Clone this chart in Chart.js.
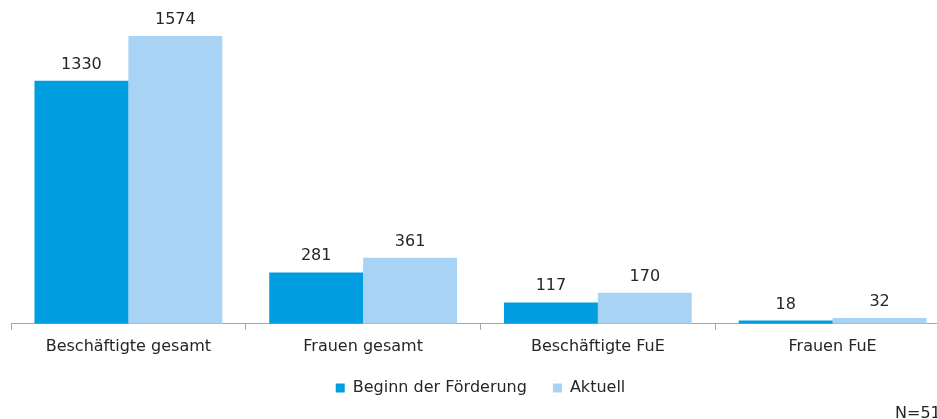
<!DOCTYPE html>
<html>
<head>
<meta charset="utf-8">
<script src="https://cdn.jsdelivr.net/npm/chart.js@4"></script>
<style>
  html, body { margin: 0; padding: 0; overflow: hidden; background: #fff; }
  #wrap { width: 937px; height: 419px; overflow: hidden; position: relative; }
  canvas { display: block; }
</style>
</head>
<body>
<div id="wrap"><canvas id="c" width="950" height="419"></canvas></div>
<script>
const categories = ["Beschäftigte gesamt", "Frauen gesamt", "Beschäftigte FuE", "Frauen FuE"];
const beginnValues = [1330, 281, 117, 18];
const aktuellValues = [1574, 361, 170, 32];
const seriesNames = ["Beginn der Förderung", "Aktuell"];
const noteText = "N=51";

const FONT = "'DejaVu Sans', Verdana, sans-serif";
const TEXT = "#262626";

const valueLabels = {
  id: 'valueLabels',
  afterDatasetsDraw(chart) {
    const ctx = chart.ctx;
    ctx.save();
    ctx.font = "16px " + FONT;
    ctx.fillStyle = TEXT;
    ctx.textAlign = 'center';
    ctx.textBaseline = 'alphabetic';
    chart.data.datasets.forEach((ds, i) => {
      chart.getDatasetMeta(i).data.forEach((bar, j) => {
        ctx.fillText(String(ds.data[j]), bar.x, bar.y - 12);
      });
    });
    ctx.restore();
  }
};

const note = {
  id: 'note',
  afterDraw(chart) {
    const ctx = chart.ctx;
    ctx.save();
    ctx.font = "16px " + FONT;
    ctx.fillStyle = TEXT;
    ctx.textAlign = 'left';
    ctx.textBaseline = 'alphabetic';
    ctx.fillText(noteText, 895, 418);
    ctx.restore();
  }
};

new Chart(document.getElementById('c'), {
  type: 'bar',
  data: {
    labels: categories,
    datasets: [
      { label: seriesNames[0], data: beginnValues, backgroundColor: '#009ee0', borderWidth: 0,
        categoryPercentage: 0.8, barPercentage: 1.0 },
      { label: seriesNames[1], data: aktuellValues, backgroundColor: '#a9d3f4', borderWidth: 0,
        categoryPercentage: 0.8, barPercentage: 1.0 }
    ]
  },
  options: {
    responsive: false,
    animation: false,
    layout: { padding: { left: 11, right: 0, top: 13, bottom: 13 } },
    plugins: {
      legend: {
        position: 'bottom',
        labels: {
          font: { family: FONT, size: 16 },
          color: TEXT,
          boxWidth: 9,
          boxHeight: 9,
          padding: 26
        }
      },
      tooltip: { enabled: false },
      title: { display: false }
    },
    scales: {
      x: {
        afterFit(scale) { scale.height -= 9; },
        grid: { display: true, offset: true, drawOnChartArea: false, tickLength: 6, color: '#a6a6a6', lineWidth: 1 },
        border: { display: true, color: '#a6a6a6', width: 1 },
        ticks: { font: { family: FONT, size: 16 }, color: TEXT, padding: 7, maxRotation: 0 }
      },
      y: {
        display: false,
        min: 0,
        max: 1700
      }
    }
  },
  plugins: [valueLabels, note]
});
</script>
</body>
</html>
